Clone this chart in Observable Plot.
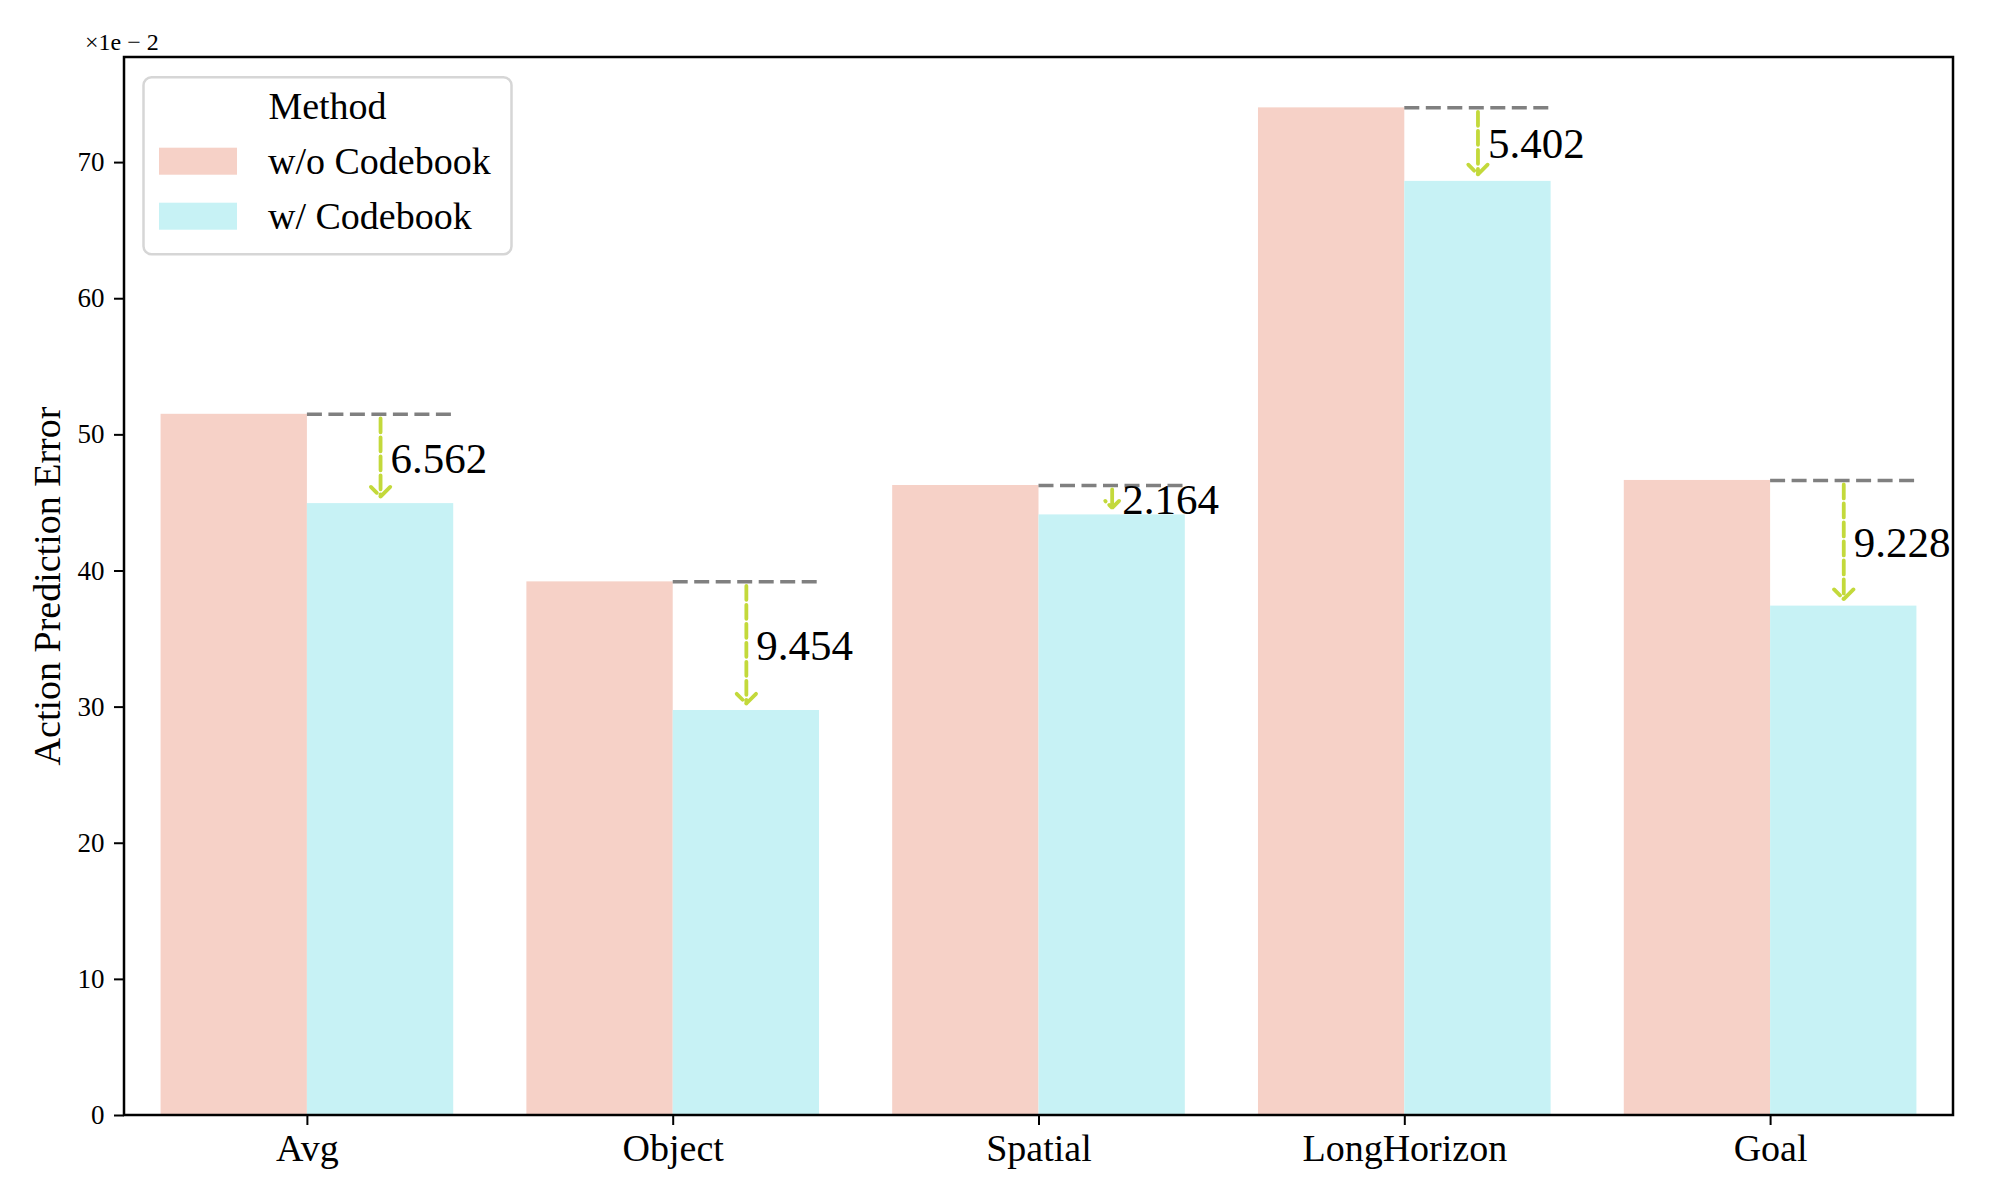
<!DOCTYPE html>
<html><head><meta charset="utf-8">
<script src="https://cdn.jsdelivr.net/npm/d3@7"></script>
<script src="https://cdn.jsdelivr.net/npm/@observablehq/plot@0.6"></script>
<style>html,body{margin:0;padding:0;background:#fff;} #chart{position:relative;width:2000px;height:1200px;}</style>
</head><body><div id="chart"></div>
<script>
const categories = ["Avg", "Object", "Spatial", "LongHorizon", "Goal"];
const methods = ["w/o Codebook", "w/ Codebook"];
const colors = ["#f6d1c7", "#c7f2f5"];
const woCodebook = [51.51, 39.20, 46.28, 74.02, 46.65];
const wCodebook = [44.95, 29.75, 44.12, 68.62, 37.42];
const drops = ["6.562", "9.454", "2.164", "5.402", "9.228"];
const yTicks = [0, 10, 20, 30, 40, 50, 60, 70];
const yMax = 77.72;
const yLabel = "Action Prediction Error";
const legendTitle = "Method";
const offsetLabel = "×1e − 2";

const W = 2000, H = 1200, mL = 124, mR = 47, mT = 57, mB = 85;
const serif = "'Liberation Serif', 'Times New Roman', serif";

const bars = categories.flatMap((c, i) => [
  {category: c, method: methods[0], value: woCodebook[i]},
  {category: c, method: methods[1], value: wCodebook[i]}
]);
const annot = categories.map((c, i) => ({
  category: c, method: methods[1],
  from: woCodebook[i], to: wCodebook[i],
  mid: (woCodebook[i] + wCodebook[i]) / 2, label: drops[i]
}));

const plot = Plot.plot({
  width: W, height: H, marginLeft: mL, marginRight: mR, marginTop: mT, marginBottom: mB,
  style: {fontFamily: serif, background: "white", color: "black"},
  fx: {domain: categories, padding: 0, round: false},
  x: {domain: methods, paddingInner: 0, paddingOuter: 0.25, round: false, axis: null},
  y: {domain: [0, yMax]},
  color: {domain: methods, range: colors},
  marks: [
    Plot.barY(bars, {fx: "category", x: "method", y: "value", fill: "method"}),
    Plot.tickY(annot, {fx: "category", x: "method", y: "from", stroke: "#808080", strokeWidth: 3.5, strokeDasharray: "15,6.5"}),
    Plot.arrow(annot, {fx: "category", x1: "method", x2: "method", y1: "from", y2: "to", stroke: "#c3d93b", strokeWidth: 3.8, strokeDasharray: "14,5", headAngle: 90, headLength: 5.4, insetStart: 4, insetEnd: 7}),
    Plot.text(annot, {fx: "category", x: "method", y: "mid", text: "label", textAnchor: "start", dx: 10, fontSize: 43, fill: "black"}),
    Plot.axisY({ticks: yTicks, tickSize: 10, tickPadding: 10, fontSize: 27, strokeWidth: 2, label: null}),
    Plot.axisFx({anchor: "bottom", tickSize: 10, tickPadding: 9, fontSize: 38, strokeWidth: 2, label: null})
  ]
});

const svg = d3.select(plot);
// frame
svg.append("rect").attr("x", mL).attr("y", mT).attr("width", W - mL - mR).attr("height", H - mT - mB)
  .attr("fill", "none").attr("stroke", "black").attr("stroke-width", 2.5);
// y label
const cy = (mT + H - mB) / 2;
svg.append("text").attr("transform", `translate(47,${cy}) rotate(-90)`).attr("text-anchor", "middle")
  .attr("dominant-baseline", "central").attr("font-family", serif).attr("font-size", 38).attr("fill", "black").text(yLabel);
// offset text
svg.append("text").attr("x", 85).attr("y", 50).attr("text-anchor", "start").attr("font-family", serif).attr("font-size", 24).attr("fill", "black").text(offsetLabel);
// legend
const lg = svg.append("g").attr("transform", "translate(143.5,77.3)");
lg.append("rect").attr("width", 368).attr("height", 177).attr("rx", 8).attr("fill", "white").attr("fill-opacity", 0.8)
  .attr("stroke", "#d6d6d6").attr("stroke-width", 2.5);
lg.append("text").attr("x", 184).attr("y", 42).attr("text-anchor", "middle").attr("font-family", serif).attr("font-size", 38).attr("fill", "black").text(legendTitle);
methods.forEach((m, i) => {
  lg.append("rect").attr("x", 15.5).attr("y", 70.4 + 55 * i).attr("width", 78).attr("height", 27).attr("fill", colors[i]);
  lg.append("text").attr("x", 124.5).attr("y", 96.7 + 55 * i).attr("text-anchor", "start").attr("font-family", serif).attr("font-size", 38).attr("fill", "black").text(m);
});

document.getElementById("chart").appendChild(plot);
</script>
</body></html>
